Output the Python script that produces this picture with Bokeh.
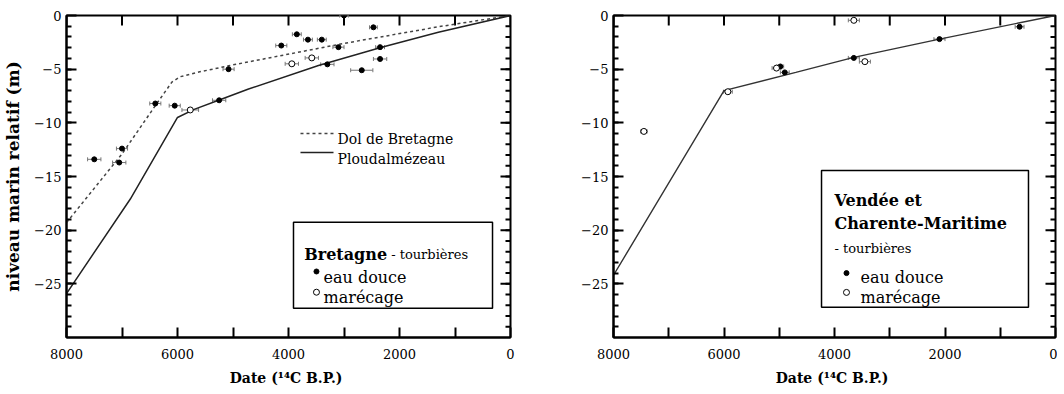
from bokeh.plotting import figure
from bokeh.models import (Range1d, FixedTicker, Label, BoxAnnotation,
                          Whisker, TeeHead, ColumnDataSource)
from bokeh.layouts import row
from bokeh.embed import file_html
from bokeh.resources import INLINE

FONT = "DejaVu Serif"

# ---------------- data: Bretagne ----------------
bre_fresh_date = [7000, 7500, 7050, 6400, 6050, 5250, 5080, 4130, 3850, 3650, 3400,
                  3100, 3000, 2470, 2350, 2350, 2680, 3300]
bre_fresh_level = [-12.4, -13.4, -13.7, -8.2, -8.4, -7.9, -5.0, -2.8, -1.75, -2.25, -2.25,
                   -2.95, 0.0, -1.1, -2.95, -4.05, -5.1, -4.55]
bre_fresh_err = [100, 120, 120, 100, 100, 120, 100, 100, 80, 80, 80,
                 100, 80, 70, 80, 120, 200, 120]

bre_marsh_date = [5770, 3940, 3580]
bre_marsh_level = [-8.8, -4.5, -3.95]
bre_marsh_err = [150, 120, 120]

dol_date = [8000, 7000, 6400, 6100, 5950, 5600, 5000, 3000, 1300, 0]
dol_level = [-19.3, -12.9, -8.4, -6.2, -5.7, -5.25, -4.6, -2.6, -1.05, 0.0]

plou_date = [8000, 6850, 6000, 5700, 5260, 4720, 3460, 2320, 1300, 0]
plou_level = [-25.9, -17.1, -9.5, -8.75, -7.9, -6.85, -4.66, -2.96, -1.56, 0.0]

# ---------------- data: Vendée et Charente-Maritime ----------------
ven_fresh_date = [4980, 4900, 3650, 2100, 650]
ven_fresh_level = [-4.75, -5.3, -3.95, -2.2, -1.05]
ven_fresh_err = [60, 80, 100, 100, 80]

ven_marsh_date = [7450, 5930, 5050, 3650, 3450]
ven_marsh_level = [-10.8, -7.1, -4.9, -0.45, -4.3]
ven_marsh_err = [60, 80, 80, 100, 100]

ven_line_date = [8000, 6000, 4700, 3650, 2100, 0]
ven_line_level = [-24.2, -7.0, -5.3, -3.9, -2.2, 0.0]

x_major = [8000, 6000, 4000, 2000, 0]
x_minor = [7000, 5000, 3000, 1000]
y_major = [0, -5, -10, -15, -20, -25]
y_minor = [v for v in range(-29, 0)]

X_MAX, X_MIN = 8000, 0
Y_MIN, Y_MAX = -30, 0
FRAME_H = 322


def make_fig(left_border, right_border, frame_w, ytitle):
    p = figure(frame_width=frame_w, frame_height=FRAME_H,
               x_range=Range1d(X_MAX, X_MIN), y_range=Range1d(Y_MIN, Y_MAX),
               output_backend="svg", toolbar_location=None,
               min_border_left=left_border, min_border_right=right_border,
               min_border_top=15, min_border_bottom=49)
    p.grid.visible = False
    p.outline_line_color = "black"
    p.outline_line_width = 2
    p.outline_line_alpha = 1
    p.background_fill_color = "white"
    p.border_fill_color = "white"

    xa = p.below[0]
    ya = p.left[0]
    xa.ticker = FixedTicker(ticks=x_major, minor_ticks=x_minor)
    ya.ticker = FixedTicker(ticks=y_major, minor_ticks=y_minor)
    xa.major_tick_in = 10
    xa.minor_tick_in = 10
    ya.major_tick_in = 10
    ya.minor_tick_in = 5
    for ax in [xa, ya]:
        ax.axis_line_width = 2
        ax.axis_line_color = "black"
        ax.major_tick_line_width = 2
        ax.minor_tick_line_width = 2
        ax.major_tick_out = 0
        ax.minor_tick_out = 0
        ax.major_label_text_font = FONT
        ax.major_label_text_font_size = "13px"
        ax.major_label_text_color = "black"

    xa.major_label_standoff = 11
    xa.axis_label = "Date (\u00b9\u2074C  B.P.)"
    xa.axis_label_text_font = FONT
    xa.axis_label_text_font_size = "14px"
    xa.axis_label_text_font_style = "bold"
    xa.axis_label_text_color = "black"
    xa.axis_label_standoff = 8

    ya.major_label_standoff = 5
    if ytitle:
        ya.axis_label = ytitle
        ya.axis_label_text_font = FONT
        ya.axis_label_text_font_size = "17px"
        ya.axis_label_text_font_style = "bold"
        ya.axis_label_text_color = "black"
        ya.axis_label_standoff = 8

    # inner ticks on the top and right edges of the frame
    px_x = (X_MAX - X_MIN) / frame_w
    px_y = (Y_MAX - Y_MIN) / float(FRAME_H)
    xt = sorted(x_major + x_minor)
    p.segment(x0=xt, y0=[Y_MAX] * len(xt), x1=xt, y1=[Y_MAX - 10 * px_y] * len(xt),
              line_color="black", line_width=2)
    p.segment(x0=[X_MIN] * len(y_major), y0=y_major,
              x1=[X_MIN + 10 * px_x] * len(y_major), y1=y_major,
              line_color="black", line_width=2)
    p.segment(x0=[X_MIN] * len(y_minor), y0=y_minor,
              x1=[X_MIN + 5 * px_x] * len(y_minor), y1=y_minor,
              line_color="black", line_width=2)
    return p


def add_points(p, dates, levels, errs, filled):
    src = ColumnDataSource(dict(x=dates, y=levels,
                                lo=[d + e for d, e in zip(dates, errs)],
                                hi=[d - e for d, e in zip(dates, errs)]))
    w = Whisker(source=src, base="y", lower="lo", upper="hi", dimension="width",
                line_color="#777777", line_width=1, level="underlay",
                lower_head=TeeHead(size=4, line_color="#777777", line_width=1),
                upper_head=TeeHead(size=4, line_color="#777777", line_width=1))
    p.add_layout(w)
    if filled:
        p.scatter("x", "y", source=src, size=5, fill_color="black", line_color="black")
    else:
        p.scatter("x", "y", source=src, size=6, fill_color="white", line_color="black",
                  line_width=1)


def label(p, x, y, text, size, bold=False):
    p.add_layout(Label(x=x, y=y, text=text, text_font=FONT, text_font_size=size,
                       text_font_style="bold" if bold else "normal",
                       text_color="black", text_baseline="alphabetic", text_align="left"))


# ---------------- left figure ----------------
p1 = make_fig(60, 24, 444, "niveau marin relatif (m)")
p1.line(dol_date, dol_level, line_color="#444444", line_width=1.5, line_dash="3 3")
p1.line(plou_date, plou_level, line_color="#222222", line_width=1.5)
add_points(p1, bre_fresh_date, bre_fresh_level, bre_fresh_err, True)
add_points(p1, bre_marsh_date, bre_marsh_level, bre_marsh_err, False)

# line legend
p1.line([3784, 3189], [-11.0, -11.0], line_color="#444444", line_width=1.5, line_dash="3 3")
p1.line([3784, 3189], [-12.76, -12.76], line_color="#222222", line_width=1.5)
label(p1, 3117, -11.5, "Dol de Bretagne", "14px")
label(p1, 3117, -13.35, "Ploudalmézeau", "14px")

# box legend
p1.add_layout(BoxAnnotation(left=3910, right=324, top=-19.26, bottom=-27.27,
                            fill_color=None, line_color="black", line_alpha=1,
                            line_width=1.5))
label(p1, 3717, -22.27, "Bretagne", "16px", bold=True)
label(p1, 2150, -22.27, "- tourbières", "13px")
p1.scatter([3496], [-23.85], size=5, fill_color="black", line_color="black")
label(p1, 3369, -24.38, "eau douce", "16px")
p1.scatter([3496], [-25.78], size=6, fill_color="white", line_color="black")
label(p1, 3369, -26.25, "marécage", "16px")

# ---------------- right figure ----------------
p2 = make_fig(79, 2, 442, None)
p2.line(ven_line_date, ven_line_level, line_color="#333333", line_width=1.4)
add_points(p2, ven_fresh_date, ven_fresh_level, ven_fresh_err, True)
add_points(p2, ven_marsh_date, ven_marsh_level, ven_marsh_err, False)

p2.add_layout(BoxAnnotation(left=4235, right=489, top=-14.44, bottom=-27.18,
                            fill_color=None, line_color="black", line_alpha=1,
                            line_width=1.5))
label(p2, 4000, -17.24, "Vendée et", "16px", bold=True)
label(p2, 4000, -19.41, "Charente-Maritime", "16px", bold=True)
label(p2, 4000, -21.74, "- tourbières", "13px")
p2.scatter([3783], [-24.0], size=5, fill_color="black", line_color="black")
label(p2, 3530, -24.38, "eau douce", "16px")
p2.scatter([3783], [-25.8], size=6, fill_color="white", line_color="black")
label(p2, 3530, -26.25, "marécage", "16px")

layout = row(p1, p2)
open("out.html", "w").write(file_html(layout, INLINE))
